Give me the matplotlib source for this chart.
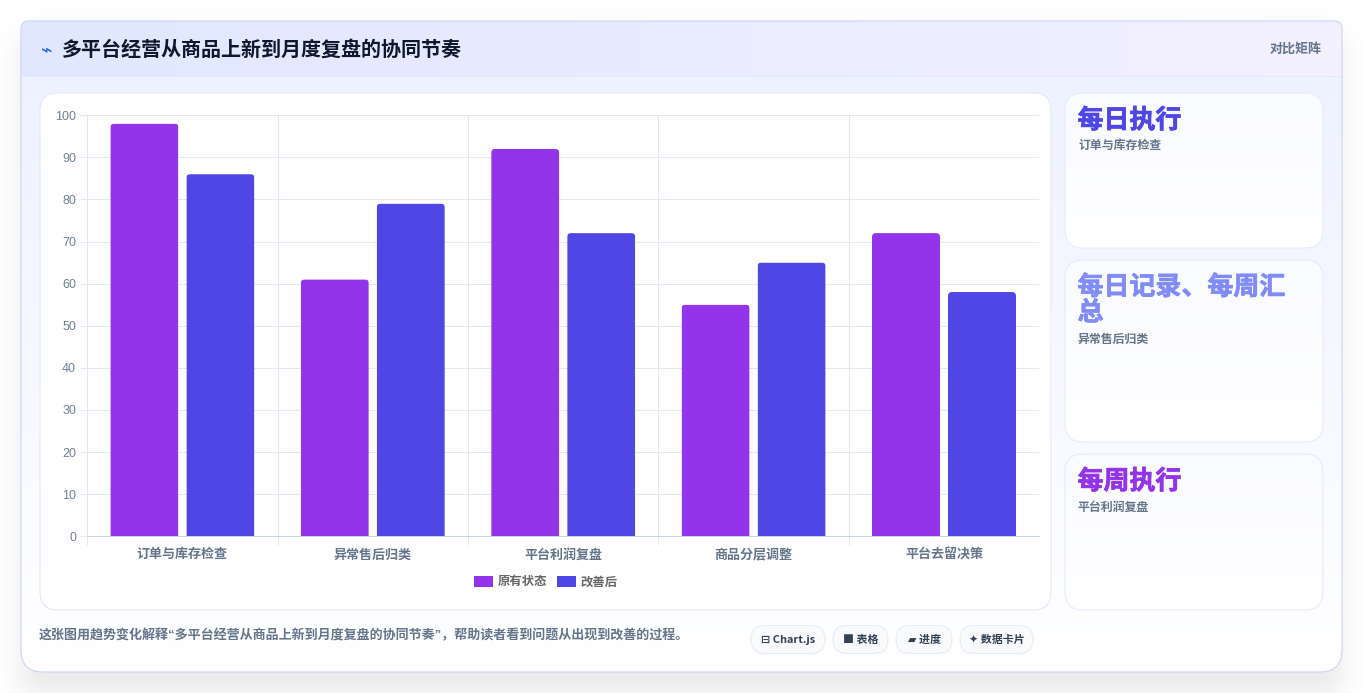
import numpy as np
import matplotlib
matplotlib.use('Agg')
import matplotlib.pyplot as plt
import matplotlib.patheffects as pe
from matplotlib.path import Path
from matplotlib.patches import PathPatch

plt.rcParams['font.family'] = ['Noto Sans CJK SC', 'DejaVu Sans']

title = '多平台经营从商品上新到月度复盘的协同节奏'
badge = '对比矩阵'
note = '这张图用趋势变化解释“多平台经营从商品上新到月度复盘的协同节奏”，帮助读者看到问题从出现到改善的过程。'

categories = ['订单与库存检查', '异常售后归类', '平台利润复盘', '商品分层调整', '平台去留决策']
before = [98, 61, 92, 55, 72]
after = [86, 79, 72, 65, 58]
series_names = ['原有状态', '改善后']
y_ticks = list(range(0, 101, 10))

card_heads = ['每日执行', '每日记录、每周汇\n总', '每周执行']
card_subs = ['订单与库存检查', '异常售后归类', '平台利润复盘']
card_colors = ['#4f46e5', '#818cf8', '#9333ea']
tags = ['⊟ Chart.js', '■ 表格', '▰ 进度', '✦ 数据卡片']

W, H = 1363, 693
PURPLE = '#9333ea'
BLUE = '#4f46e5'
GRID = '#e2e8f0'
TICK = '#64748b'


def rrect(x0, y0, x1, y1, rt, rb=None):
    # rounded rectangle, y grows downwards (pixel coords)
    rb = rt if rb is None else rb
    verts = [(x0 + rt, y0), (x1 - rt, y0), (x1, y0), (x1, y0 + rt),
             (x1, y1 - rb), (x1, y1), (x1 - rb, y1),
             (x0 + rb, y1), (x0, y1), (x0, y1 - rb),
             (x0, y0 + rt), (x0, y0), (x0 + rt, y0), (x0 + rt, y0)]
    codes = [Path.MOVETO, Path.LINETO, Path.CURVE3, Path.CURVE3,
             Path.LINETO, Path.CURVE3, Path.CURVE3,
             Path.LINETO, Path.CURVE3, Path.CURVE3,
             Path.LINETO, Path.CURVE3, Path.CURVE3, Path.CLOSEPOLY]
    return Path(verts, codes)


def hexrgb(c):
    return np.array(matplotlib.colors.to_rgb(c))


def gradient(ax, box, path, c0, c1, horizontal=False, z=1):
    # fill a path with a two colour gradient
    t = np.linspace(0, 1, 64)
    t = t[None, :] if horizontal else t[:, None]
    img = hexrgb(c0) * (1 - t[..., None]) + hexrgb(c1) * t[..., None]
    im = ax.imshow(img, extent=(box[0], box[2], box[3], box[1]), aspect='auto',
                   zorder=z, interpolation='bilinear')
    im.set_clip_path(path, ax.transData)


def panel(ax, box, r, c0, c1, edge, z=2):
    p = rrect(*box, r)
    gradient(ax, box, p, c0, c1, z=z)
    ax.add_patch(PathPatch(p, fc='none', ec=edge, lw=0.72, zorder=z + 0.1))


fig = plt.figure(figsize=(W / 100, H / 100), dpi=100, facecolor='white')
bg = fig.add_axes([0, 0, 1, 1], zorder=0)
bg.axis('off')

# soft shadow under the main card
xx, yy = np.meshgrid(np.arange(W) + 0.5, np.arange(H) + 0.5)
dx = np.maximum(np.maximum(45 - xx, xx - 1318), 0)
dy = np.maximum(np.maximum(60 - yy, yy - 670), 0)
dist = np.hypot(dx, dy)
alpha = 0.08 * np.exp(-(dist / 30) ** 2)
shadow = np.zeros((H, W, 4))
shadow[..., 3] = alpha
bg.imshow(shadow, extent=(0, W, H, 0), aspect='auto', zorder=0.5)

# main card
main_box = (21, 21, 1342, 672)
main_path = rrect(*main_box, 8, 22)
gradient(bg, main_box, main_path, '#edf1ff', '#ffffff', z=1)

head_box = (21, 21, 1342, 76)
gradient(bg, head_box, rrect(*head_box, 8, 0), '#e0e7ff', '#f3f0ff', horizontal=True, z=1.2)
bg.plot([21, 1342], [76, 76], color='#e4e9fb', lw=0.72, zorder=1.3)
bg.add_patch(PathPatch(main_path, fc='none', ec='#c7d2f5', lw=0.72, zorder=1.4))

panel(bg, (40, 93, 1051, 610), 18, '#ffffff', '#ffffff', '#e2e8f0')
panel(bg, (1065, 93, 1323, 248), 18, '#fafbff', '#ffffff', '#e4eafa')
panel(bg, (1065, 260, 1323, 442), 18, '#fafbff', '#ffffff', '#e4eafa')
panel(bg, (1065, 454, 1323, 610), 18, '#fafbff', '#ffffff', '#e4eafa')

bg.text(47, 50.5, '⌁', color='#2563eb', fontsize=14, ha='center', va='center', zorder=5)
bg.text(62, 49.5, title, color='#0f172a', fontsize=14.45, fontweight='bold', va='center', zorder=5)
bg.text(1322, 48.5, badge, color='#64748b', fontsize=9.36, fontweight='bold', ha='right', va='center', zorder=5)

head_y = [120.5, 300, 481.5]
sub_y = [145.5, 339, 507]
for head, sub, col, hy, sy in zip(card_heads, card_subs, card_colors, head_y, sub_y):
    bg.text(1077.5, hy, head, color=col, fontsize=18.7, fontweight='bold', va='center',
            linespacing=0.93, zorder=5,
            path_effects=[pe.withStroke(linewidth=0.5, foreground=col)])
    bg.text(1078, sy, sub, color='#64748b', fontsize=8.6, fontweight='bold', va='center', zorder=5)

bg.text(39, 636, note, color='#64748b', fontsize=9.36, fontweight='bold', va='center', zorder=5,
        family=['Liberation Sans', 'Noto Sans CJK SC'])

# pill tags along the bottom
tag_boxes = [(751, 825), (833, 888), (896, 952), (960, 1033)]
for label, (x0, x1) in zip(tags, tag_boxes):
    bg.add_patch(PathPatch(rrect(x0, 625.5, x1, 653.5, 14), fc='#f8fafc', ec='#e6ebf2',
                           lw=0.72, zorder=4))
    bg.text((x0 + x1) / 2, 640, label, color='#334155', fontsize=7.9, fontweight='bold',
            ha='center', va='center', zorder=5)

bg.set_xlim(0, W)
bg.set_ylim(H, 0)

# the chart itself
ax_left, ax_right, ax_top, ax_bottom = 87.2, 1039.2, 115.2, 536.2
ax = fig.add_axes([ax_left / W, 1 - ax_bottom / H, (ax_right - ax_left) / W, (ax_bottom - ax_top) / H],
                  zorder=1)
ax.patch.set_alpha(0)

x = np.arange(len(categories))
bar_w = 68 / 190.4
off = 38 / 190.4
bars_a = ax.bar(x - off, before, bar_w, color=PURPLE, label=series_names[0], zorder=3)
bars_b = ax.bar(x + off, after, bar_w, color=BLUE, label=series_names[1], zorder=3)

ax.set_xlim(-0.5, len(categories) - 0.5)
ax.set_ylim(0, 100)

# rounded corners, 4 px in data units
rx = 4 / 190.4
ry = 4 * 100 / 421
for b in list(bars_a) + list(bars_b):
    x0, x1 = b.get_x(), b.get_x() + b.get_width()
    y1 = b.get_height()
    verts = [(x0, 0), (x0, y1 - ry), (x0, y1), (x0 + rx, y1), (x1 - rx, y1), (x1, y1),
             (x1, y1 - ry), (x1, 0), (x0, 0)]
    codes = [Path.MOVETO, Path.LINETO, Path.CURVE3, Path.CURVE3, Path.LINETO, Path.CURVE3,
             Path.CURVE3, Path.LINETO, Path.CLOSEPOLY]
    b.set_clip_path(Path(verts, codes), ax.transData)
    b.set_snap(False)

ax.set_yticks(y_ticks)
ax.set_xticks(x - 0.5)
ax.set_xticks(x, categories, minor=True)
ax.tick_params(axis='x', which='major', length=6.5, color=GRID, labelbottom=False, width=0.72)
ax.tick_params(axis='x', which='minor', length=0, pad=8, labelsize=9.36, labelcolor=TICK)
ax.tick_params(axis='y', length=5, color=GRID, width=0.72, pad=3, labelcolor='#718096')
for t in ax.get_xticklabels(minor=True):
    t.set_fontweight('bold')
for t in ax.get_yticklabels():
    t.set_fontfamily('Liberation Sans')
    t.set_fontsize(9)

ax.grid(True, color=GRID, lw=0.72, zorder=1)
ax.set_axisbelow(True)
for side in ['top', 'right']:
    ax.spines[side].set_visible(False)
ax.spines['left'].set_color(GRID)
ax.spines['left'].set_linewidth(0.72)
ax.spines['bottom'].set_color('#cbd5e1')
ax.spines['bottom'].set_linewidth(0.72)

leg = ax.legend(ncols=2, frameon=False, loc='center', bbox_to_anchor=(0.482, -0.1085),
                handlelength=1.5, handleheight=1, handletextpad=0.42,
                columnspacing=0.8, borderpad=0, labelcolor='#666666',
                prop={'weight': 'bold', 'size': 8.9})

fig.savefig('out.png', dpi=100)
